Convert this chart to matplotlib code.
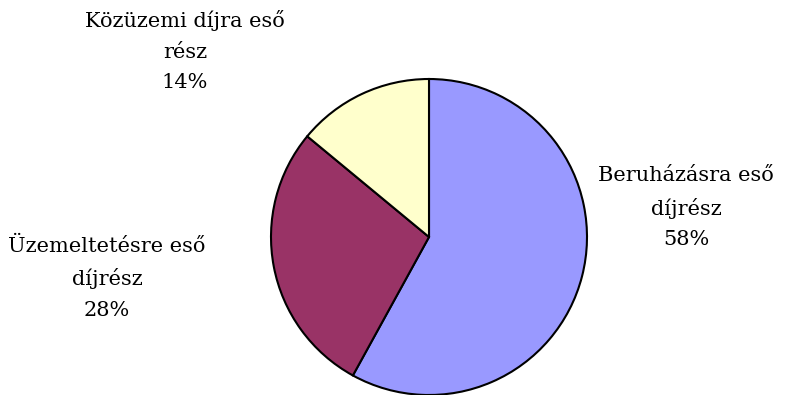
import matplotlib.pyplot as plt

labels = ['Beruházásra eső\ndíjrész', 'Üzemeltetésre eső\ndíjrész', 'Közüzemi díjra eső\nrész']
shares = [58, 28, 14]
colors = ['#9999FF', '#993366', '#FFFFCC']
# label centres in pie units (radius = 1)
label_pos = [(1.627, 0.184), (-2.038, -0.259), (-1.544, 1.177)]

fig = plt.figure(figsize=(8.03, 3.95), dpi=100)
ax = fig.add_axes([271 / 803, 0.0, 316 / 803, 316 / 395])
ax.pie(shares, colors=colors, startangle=90, counterclock=False, radius=1,
       wedgeprops={'edgecolor': 'black', 'linewidth': 1.5})
ax.set_xlim(-1, 1)
ax.set_ylim(-1, 1)
ax.set_aspect('equal')
ax.axis('off')

for lab, val, (x, y) in zip(labels, shares, label_pos):
    ax.text(x, y, f'{lab}\n{val}%', ha='center', va='center', fontsize=15,
            family='DejaVu Serif', linespacing=1.75, clip_on=False)

plt.savefig('out.png', dpi=100)
